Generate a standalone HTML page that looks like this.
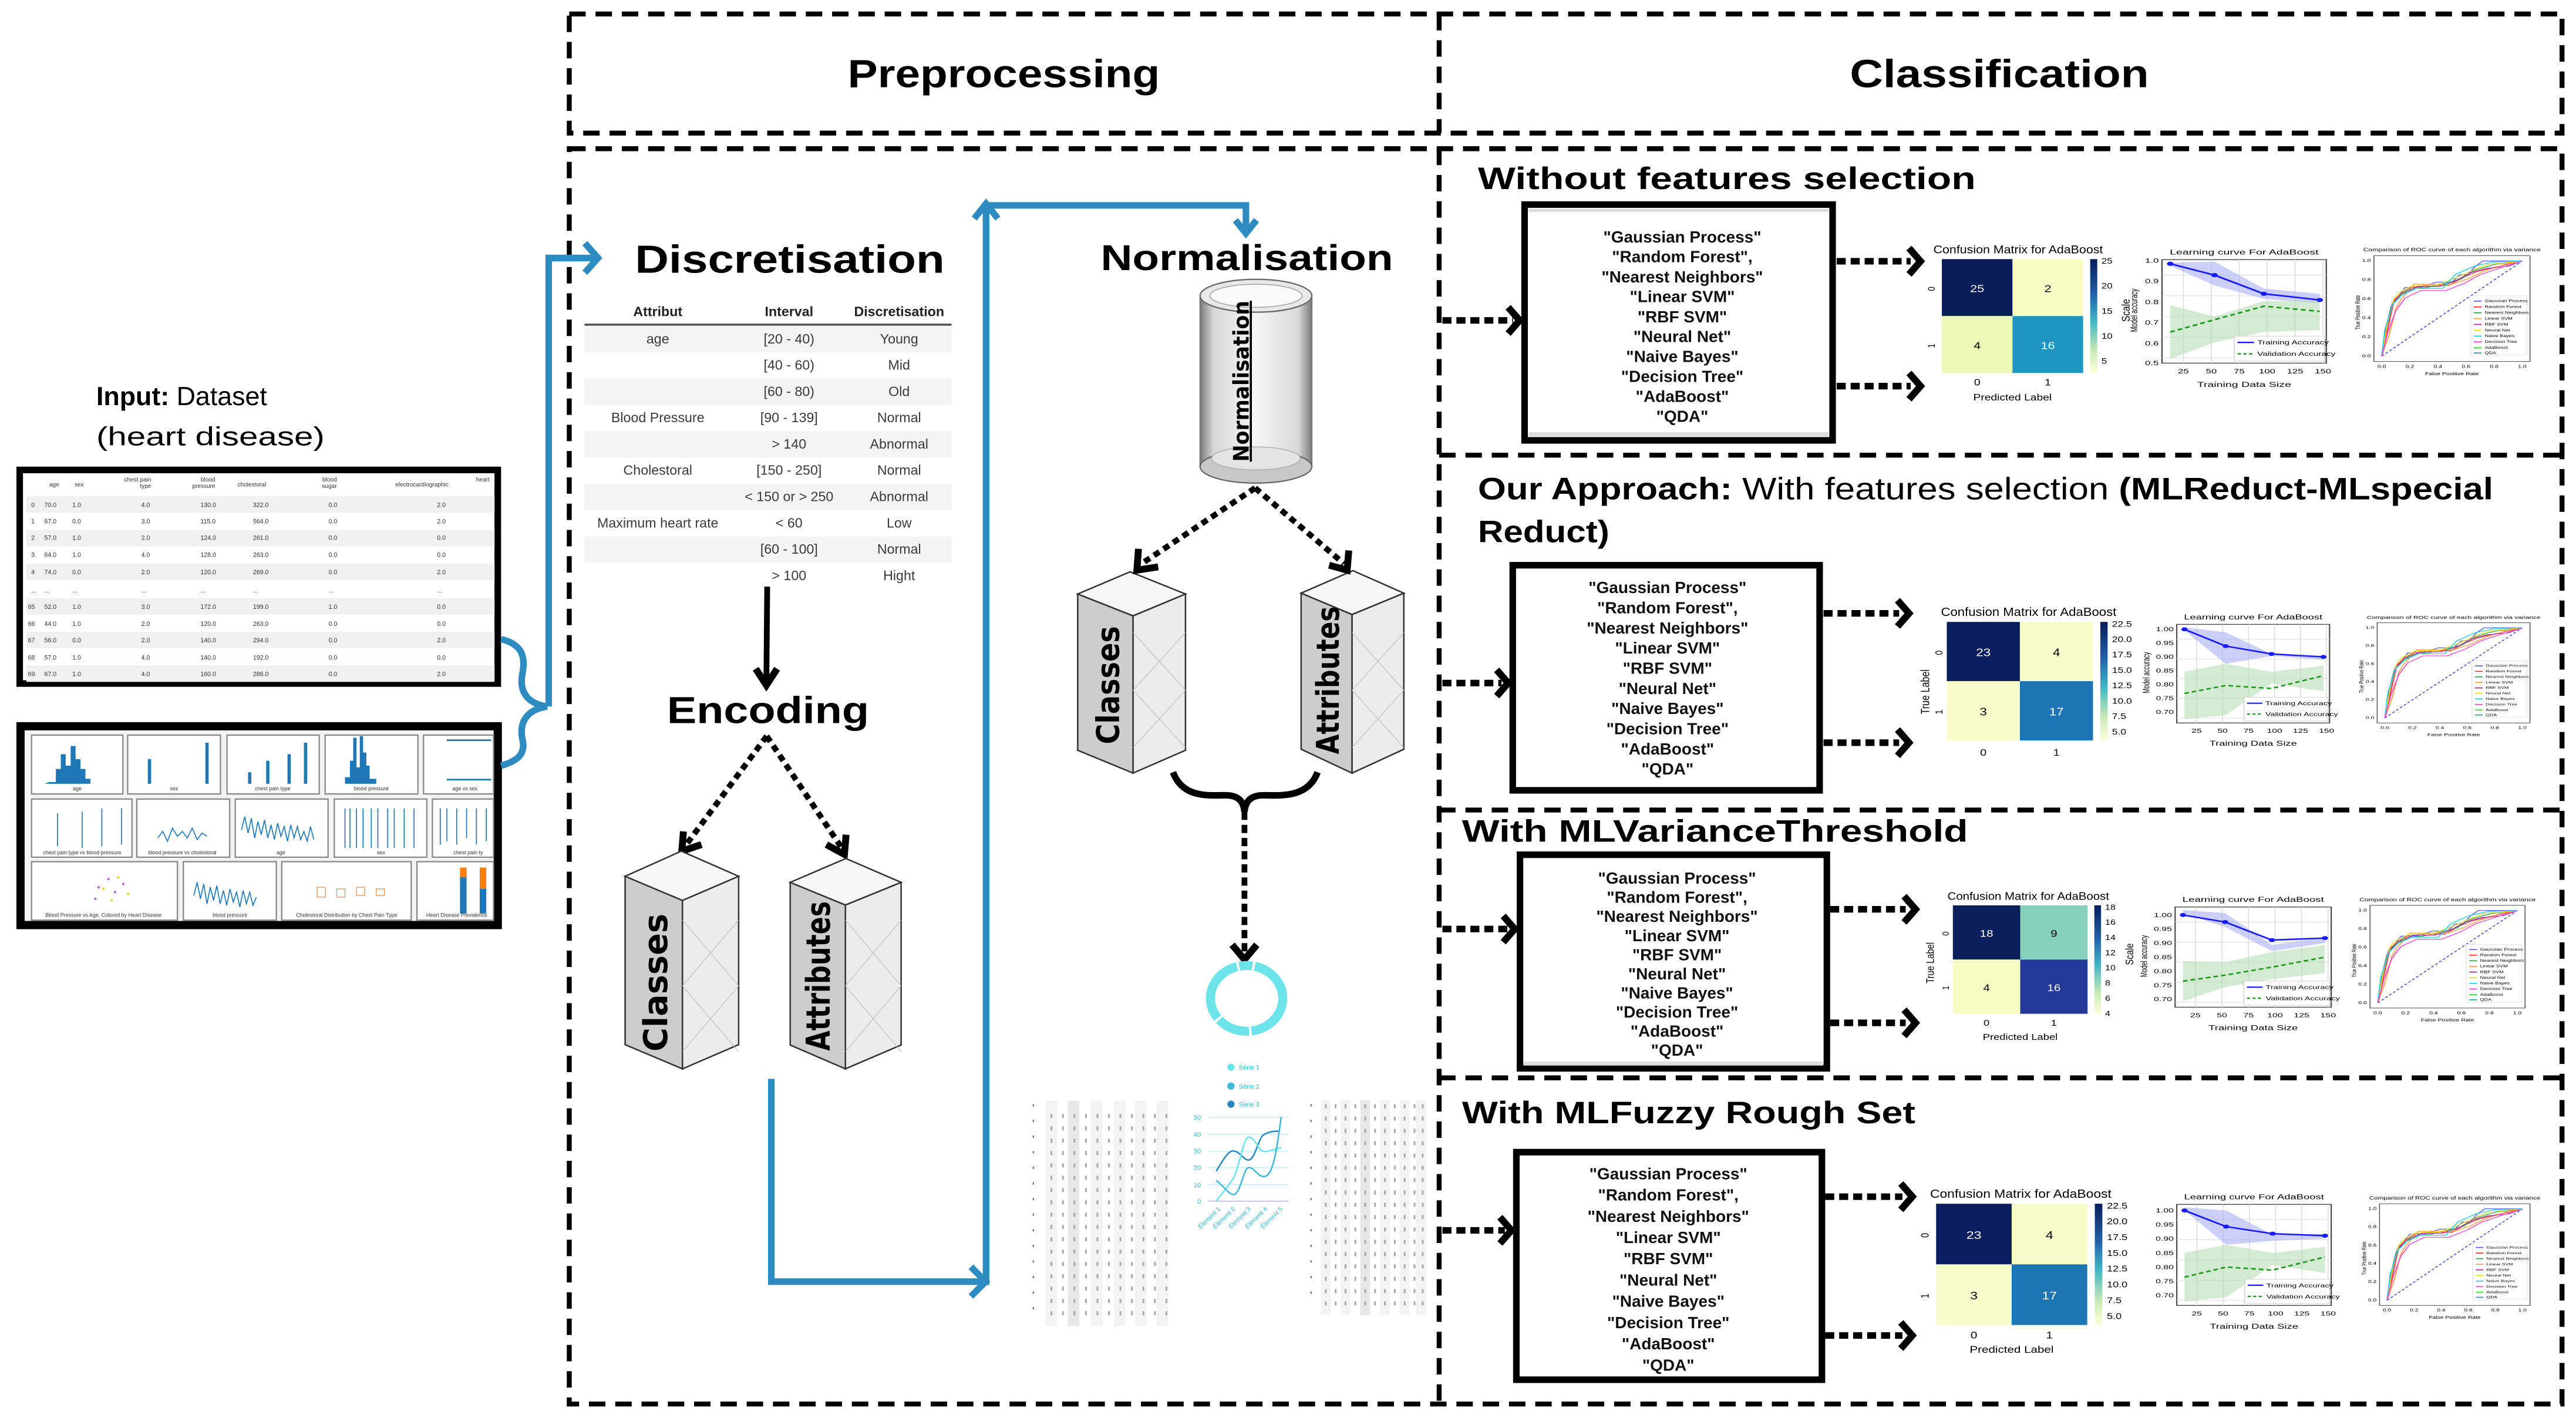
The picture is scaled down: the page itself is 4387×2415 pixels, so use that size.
<!DOCTYPE html>
<html><head><meta charset="utf-8"><style>
html,body{margin:0;padding:0;background:#fff;}
svg{display:block;}
text{font-family:"Liberation Sans","DejaVu Sans",sans-serif;}
.b{font-weight:bold;}
.lst{font-size:10px;font-weight:bold;text-anchor:middle;fill:#111;}
.tb{font-size:8.3px;fill:#3a3a3a;text-anchor:middle;}
.hd{fill:none;stroke:#000;stroke-width:4.2;stroke-linecap:butt;stroke-linejoin:miter;}
.bl{fill:none;stroke:#2e8bc0;stroke-width:4;}
.dash{fill:none;stroke:#000;stroke-width:3;stroke-dasharray:10 6;}
.sm{font-size:3.6px;fill:#333;}
</style></head><body>
<svg width="4387" height="2415" viewBox="0 0 1568 863" preserveAspectRatio="none" xmlns="http://www.w3.org/2000/svg">
<defs>
<linearGradient id="cb" x1="0" y1="0" x2="0" y2="1"><stop offset="0" stop-color="#081d58"/><stop offset="0.3" stop-color="#225ea8"/><stop offset="0.55" stop-color="#41b6c4"/><stop offset="0.8" stop-color="#c7e9b4"/><stop offset="1" stop-color="#ffffd9"/></linearGradient>
<linearGradient id="cyl" x1="0" y1="0" x2="1" y2="0"><stop offset="0" stop-color="#7a7a7a"/><stop offset="0.12" stop-color="#d8d8d8"/><stop offset="0.5" stop-color="#f6f6f6"/><stop offset="0.88" stop-color="#d8d8d8"/><stop offset="1" stop-color="#7a7a7a"/></linearGradient>
</defs>

<rect class="dash" x="346.5" y="8.5" width="1213" height="72.5"/>
<line class="dash" x1="876" y1="8.5" x2="876" y2="81"/>
<rect class="dash" x="346.5" y="90.5" width="1213" height="764"/>
<line class="dash" x1="876" y1="90.5" x2="876" y2="854.5"/>
<line class="dash" x1="876" y1="277" x2="1559.5" y2="277"/>
<line class="dash" x1="876" y1="493" x2="1559.5" y2="493"/>
<line class="dash" x1="876" y1="656" x2="1559.5" y2="656"/>

<text class="b" x="611" y="53" font-size="24" text-anchor="middle" textLength="190" lengthAdjust="spacingAndGlyphs">Preprocessing</text>
<text class="b" x="1217" y="53" font-size="24" text-anchor="middle" textLength="182" lengthAdjust="spacingAndGlyphs">Classification</text>

<text x="58.6" y="246.5" font-size="16"><tspan class="b">Input:</tspan> Dataset</text>
<text x="58.6" y="271" font-size="16" textLength="139" lengthAdjust="spacingAndGlyphs">(heart disease)</text>

<rect x="12" y="286" width="291" height="130" fill="#fff" stroke="#000" stroke-width="4"/>
<g class="sm">
<text x="36" y="296" text-anchor="end">age</text><text x="51" y="296" text-anchor="end">sex</text>
<text x="92" y="293" text-anchor="end">chest pain</text><text x="92" y="297" text-anchor="end">type</text>
<text x="131" y="293" text-anchor="end">blood</text><text x="131" y="297" text-anchor="end">pressure</text>
<text x="162" y="296" text-anchor="end">cholestoral</text>
<text x="205" y="293" text-anchor="end">blood</text><text x="205" y="297" text-anchor="end">sugar</text>
<text x="273" y="296" text-anchor="end">electrocardiographic</text>
<text x="298" y="293" text-anchor="end">heart</text>
</g>
<g fill="#f0f0f0"><rect x="16" y="302" width="285" height="10"/><rect x="16" y="322.5" width="285" height="10"/><rect x="16" y="343" width="285" height="10"/><rect x="16" y="364" width="285" height="10"/><rect x="16" y="384.5" width="285" height="10"/><rect x="16" y="405" width="285" height="10"/></g>
<g font-size="3.8" fill="#333">
<text x="19" y="308.5">0</text><text x="27" y="308.5">70.0</text><text x="44" y="308.5">1.0</text><text x="86" y="308.5">4.0</text><text x="122" y="308.5">130.0</text><text x="154" y="308.5">322.0</text><text x="200" y="308.5">0.0</text><text x="266" y="308.5">2.0</text>
<text x="19" y="318.5">1</text><text x="27" y="318.5">67.0</text><text x="44" y="318.5">0.0</text><text x="86" y="318.5">3.0</text><text x="122" y="318.5">115.0</text><text x="154" y="318.5">564.0</text><text x="200" y="318.5">0.0</text><text x="266" y="318.5">2.0</text>
<text x="19" y="328.5">2</text><text x="27" y="328.5">57.0</text><text x="44" y="328.5">1.0</text><text x="86" y="328.5">2.0</text><text x="122" y="328.5">124.0</text><text x="154" y="328.5">261.0</text><text x="200" y="328.5">0.0</text><text x="266" y="328.5">0.0</text>
<text x="19" y="339">3</text><text x="27" y="339">64.0</text><text x="44" y="339">1.0</text><text x="86" y="339">4.0</text><text x="122" y="339">128.0</text><text x="154" y="339">263.0</text><text x="200" y="339">0.0</text><text x="266" y="339">0.0</text>
<text x="19" y="349.5">4</text><text x="27" y="349.5">74.0</text><text x="44" y="349.5">0.0</text><text x="86" y="349.5">2.0</text><text x="122" y="349.5">120.0</text><text x="154" y="349.5">269.0</text><text x="200" y="349.5">0.0</text><text x="266" y="349.5">2.0</text>
<text x="19" y="360.5">...</text><text x="27" y="360.5">...</text><text x="44" y="360.5">...</text><text x="86" y="360.5">...</text><text x="122" y="360.5">...</text><text x="154" y="360.5">...</text><text x="200" y="360.5">...</text><text x="266" y="360.5">...</text>
<text x="17" y="370.5">65</text><text x="27" y="370.5">52.0</text><text x="44" y="370.5">1.0</text><text x="86" y="370.5">3.0</text><text x="122" y="370.5">172.0</text><text x="154" y="370.5">199.0</text><text x="200" y="370.5">1.0</text><text x="266" y="370.5">0.0</text>
<text x="17" y="381">66</text><text x="27" y="381">44.0</text><text x="44" y="381">1.0</text><text x="86" y="381">2.0</text><text x="122" y="381">120.0</text><text x="154" y="381">263.0</text><text x="200" y="381">0.0</text><text x="266" y="381">0.0</text>
<text x="17" y="391">67</text><text x="27" y="391">56.0</text><text x="44" y="391">0.0</text><text x="86" y="391">2.0</text><text x="122" y="391">140.0</text><text x="154" y="391">294.0</text><text x="200" y="391">0.0</text><text x="266" y="391">2.0</text>
<text x="17" y="401.5">68</text><text x="27" y="401.5">57.0</text><text x="44" y="401.5">1.0</text><text x="86" y="401.5">4.0</text><text x="122" y="401.5">140.0</text><text x="154" y="401.5">192.0</text><text x="200" y="401.5">0.0</text><text x="266" y="401.5">0.0</text>
<text x="17" y="411.5">69</text><text x="27" y="411.5">67.0</text><text x="44" y="411.5">1.0</text><text x="86" y="411.5">4.0</text><text x="122" y="411.5">160.0</text><text x="154" y="411.5">286.0</text><text x="200" y="411.5">0.0</text><text x="266" y="411.5">2.0</text>
</g>

<rect x="12.5" y="442" width="290.5" height="121" fill="#f3f3f3" stroke="#000" stroke-width="5"/>
<g fill="#fff" stroke="#888" stroke-width="0.8">
<rect x="19.2" y="447.4" width="55.6" height="35.8"/><rect x="77.7" y="447.4" width="56.5" height="35.8"/><rect x="138.2" y="447.4" width="56.1" height="35.8"/><rect x="197.9" y="447.4" width="56.5" height="35.8"/><rect x="257.8" y="447.4" width="42.6" height="35.8"/>
<rect x="19.2" y="486.3" width="61.1" height="35.4"/><rect x="83.3" y="486.3" width="56.5" height="35.4"/><rect x="143.2" y="486.3" width="56.5" height="35.4"/><rect x="203.5" y="486.3" width="56.3" height="35.4"/><rect x="263.2" y="486.3" width="37.2" height="35.4"/>
<rect x="19.2" y="524.4" width="88.8" height="35.6"/><rect x="111.6" y="524.4" width="56.6" height="35.6"/><rect x="171.5" y="524.4" width="78.8" height="35.6"/><rect x="253.8" y="524.4" width="46.6" height="35.6"/>
</g>
<g fill="#1f77b4">
<path d="M30 476 h4 v-8 h3 v-9 h3 v7 h3 v-12 h3 v8 h3 v6 h3 v6 h3 v3 h-28z"/>
<rect x="90" y="462" width="2" height="15"/><rect x="125" y="452" width="2" height="25"/>
<rect x="151" y="470" width="2" height="7"/><rect x="162" y="463" width="2" height="14"/><rect x="175" y="459" width="2" height="18"/><rect x="185" y="452" width="2" height="25"/>
<path d="M210 477 v-4 h3 v-10 h2 v-14 h2 v18 h2 v-19 h2 v10 h2 v8 h2 v8 h4 v3z"/>
<rect x="272" y="450" width="27" height="1"/><rect x="272" y="474" width="27" height="1"/>
<rect x="280" y="530" width="4" height="26"/><rect x="292" y="540" width="4" height="16"/>
</g>
<g fill="#ff7f0e"><rect x="280" y="528" width="4" height="6"/><rect x="292" y="528" width="4" height="13"/></g>
<g stroke="#1f77b4" stroke-width="0.6" fill="none">
<path d="M35 495 v20 M50 494 v22 M62 492 v23 M74 492 v22"/>
<path d="M96 510 l3 -4 3 6 3 -8 3 5 3 -3 3 4 3 -6 3 7 3-4 3 2"/>
<path d="M147 505 l2 -8 2 10 2 -9 2 12 2 -10 2 8 2 -9 2 11 2 -8 2 9 2 -10 2 8 2 -6 2 9 2 -10 2 8 2 -7 2 8 2 -5 2 6 2 -9 2 8"/>
<path d="M210 492 v24 M213 492 v24 M217 492 v24 M221 492 v24 M226 492 v24 M230 492 v24 M236 492 v24 M240 492 v24 M246 492 v24 M252 492 v24"/>
<path d="M268 492 v22 M272 492 v20 M278 492 v22 M284 492 v18 M290 492 v22 M296 492 v20"/>
<path d="M118 545 l2 -8 2 10 2 -9 2 12 2 -10 2 8 2 -9 2 11 2 -8 2 9 2 -10 2 8 2 -6 2 9 2 -10 2 8 2 -7 2 8 2 -5"/>
</g>
<g fill="#9b59b6" opacity="0.8"><circle cx="60" cy="540" r="0.8"/><circle cx="66" cy="535" r="0.8"/><circle cx="70" cy="543" r="0.8"/><circle cx="58" cy="547" r="0.8"/><circle cx="75" cy="538" r="0.8"/></g>
<g fill="#e8d83a"><circle cx="63" cy="541" r="0.8"/><circle cx="72" cy="534" r="0.8"/><circle cx="68" cy="548" r="0.8"/><circle cx="78" cy="544" r="0.8"/></g>
<g fill="#fff" stroke="#e89a5e" stroke-width="0.5"><rect x="193" y="540" width="5" height="6"/><rect x="205" y="541" width="5" height="5"/><rect x="217" y="540" width="5" height="5"/><rect x="229" y="541" width="5" height="4"/></g>
<g font-size="3.2" fill="#333" text-anchor="middle">
<text x="47" y="481">age</text><text x="106" y="481">sex</text><text x="166" y="481">chest pain type</text><text x="226" y="481">blood pressure</text><text x="283" y="481">age vs sex</text>
<text x="50" y="520">chest pain type vs blood pressure</text><text x="111" y="520">blood pressure vs cholestoral</text><text x="171" y="520">age</text><text x="232" y="520">sex</text><text x="285" y="520">chest pain ty</text>
<text x="63" y="558">Blood Pressure vs Age, Colored by Heart Disease</text><text x="140" y="558">blood pressure</text><text x="211" y="558">Cholestoral Distribution by Chest Pain Type</text><text x="278" y="558">Heart Disease Prevalence</text>
</g>

<path class="bl" d="M305 389 C318 392 320 400 318 410 C316 420 320 428 333 430 C320 432 316 440 318 450 C320 458 316 463 305 466"/>
<path class="bl" d="M334 430 V157 H362"/>
<path class="bl" d="M356 148 L364 157 L356 166" stroke-width="4.5"/>

<text class="b" x="386.5" y="166" font-size="24" textLength="188.5" lengthAdjust="spacingAndGlyphs">Discretisation</text>
<g class="b" font-size="8.3" text-anchor="middle" fill="#222"><text x="400.4" y="192.5">Attribut</text><text x="480.3" y="192.5">Interval</text><text x="547.3" y="192.5">Discretisation</text></g>
<line x1="355.8" y1="197.6" x2="579.2" y2="197.6" stroke="#555" stroke-width="1.3"/>
<g fill="#f4f4f4"><rect x="355.8" y="198.5" width="223.4" height="16"/><rect x="355.8" y="230.5" width="223.4" height="16"/><rect x="355.8" y="262.5" width="223.4" height="16"/><rect x="355.8" y="294.5" width="223.4" height="16"/><rect x="355.8" y="326.5" width="223.4" height="16"/></g>
<g class="tb">
<text x="400.4" y="209">age</text><text x="480.3" y="209">[20 - 40)</text><text x="547.3" y="209">Young</text>
<text x="480.3" y="225">[40 - 60)</text><text x="547.3" y="225">Mid</text>
<text x="480.3" y="241">[60 - 80)</text><text x="547.3" y="241">Old</text>
<text x="400.4" y="257">Blood Pressure</text><text x="480.3" y="257">[90 - 139]</text><text x="547.3" y="257">Normal</text>
<text x="480.3" y="273">&gt; 140</text><text x="547.3" y="273">Abnormal</text>
<text x="400.4" y="289">Cholestoral</text><text x="480.3" y="289">[150 - 250]</text><text x="547.3" y="289">Normal</text>
<text x="480.3" y="305">&lt; 150 or &gt; 250</text><text x="547.3" y="305">Abnormal</text>
<text x="400.4" y="321">Maximum heart rate</text><text x="480.3" y="321">&lt; 60</text><text x="547.3" y="321">Low</text>
<text x="480.3" y="337">[60 - 100]</text><text x="547.3" y="337">Normal</text>
<text x="480.3" y="353">&gt; 100</text><text x="547.3" y="353">Hight</text>
</g>
<line x1="467" y1="357" x2="466.5" y2="414" stroke="#000" stroke-width="3.5"/>
<path d="M460 407 L466.5 417 L473 407" class="hd" stroke-width="3.5"/>

<text class="b" x="406" y="440" font-size="23" textLength="123" lengthAdjust="spacingAndGlyphs">Encoding</text>
<path d="M466.7 448 L417 515" fill="none" stroke="#000" stroke-width="3.5" stroke-dasharray="4 3"/>
<path d="M466.7 448 L513 517" fill="none" stroke="#000" stroke-width="3.5" stroke-dasharray="4 3"/>
<path d="M416 506 L415 518 L427 514" class="hd" stroke-width="3.5"/>
<path d="M503 514 L514 520 L515 508" class="hd" stroke-width="3.5"/>

<g stroke="#333" stroke-width="0.9">
<polygon points="380.5,533.3 415.4,548 415.4,650.5 380.5,635.8" fill="#cdcdcd"/>
<polygon points="415.4,548 449.6,533.3 449.6,635.8 415.4,650.5" fill="#ececec"/>
<polygon points="380.5,533.3 414.7,518 449.6,533.3 415.4,548" fill="#f7f7f7"/>
<polygon points="481,537 514.6,550.8 514.6,650.5 481,636" fill="#cdcdcd"/>
<polygon points="514.6,550.8 548.5,537 548.5,636 514.6,650.5" fill="#ececec"/>
<polygon points="481,537 514.9,522.5 548.5,537 514.6,550.8" fill="#f7f7f7"/>
<polygon points="656,361.5 689.7,374.8 689.7,470.5 656,456.6" fill="#cdcdcd"/>
<polygon points="689.7,374.8 721.6,361.5 721.6,456.6 689.7,470.5" fill="#ececec"/>
<polygon points="656,361.5 687.9,348 721.6,361.5 689.7,374.8" fill="#f7f7f7"/>
<polygon points="792,361 823,374 823,470.5 792,456" fill="#cdcdcd"/>
<polygon points="823,374 854.5,361 854.5,456 823,470.5" fill="#ececec"/>
<polygon points="792,361 823.5,347.3 854.5,361 823,374" fill="#f7f7f7"/>
</g>
<g stroke="#bbb" stroke-width="0.4" fill="none">
<path d="M415.4 560 L449.6 600 M449.6 560 L415.4 600 M415.4 600 L449.6 640 M449.6 600 L415.4 640"/>
<path d="M514.6 560 L548.5 600 M548.5 560 L514.6 600 M514.6 600 L548.5 640 M548.5 600 L514.6 640"/>
<path d="M689.7 385 L721.6 420 M721.6 385 L689.7 420 M689.7 420 L721.6 455 M721.6 420 L689.7 455"/>
<path d="M823 385 L854.5 420 M854.5 385 L823 420 M823 420 L854.5 455 M854.5 420 L823 455"/>
</g>
<g class="b" fill="#000">
<text transform="translate(406,640) rotate(-90)" font-size="20" textLength="84" lengthAdjust="spacingAndGlyphs" style="font-family:'DejaVu Sans',sans-serif">Classes</text>
<text transform="translate(505,639.5) rotate(-90)" font-size="20" textLength="91" lengthAdjust="spacingAndGlyphs" style="font-family:'DejaVu Sans',sans-serif">Attributes</text>
<text transform="translate(681,453) rotate(-90)" font-size="19" textLength="72" lengthAdjust="spacingAndGlyphs" style="font-family:'DejaVu Sans',sans-serif">Classes</text>
<text transform="translate(815,459) rotate(-90)" font-size="19" textLength="90" lengthAdjust="spacingAndGlyphs" style="font-family:'DejaVu Sans',sans-serif">Attributes</text>
</g>

<path class="bl" d="M469.5 656.6 V780 H598"/>
<path class="bl" d="M591 771 L600 780 L591 789" stroke-width="4.5"/>
<path class="bl" d="M600.2 782 V125 H758.4 V140"/>
<path class="bl" d="M593 133 L600.2 124 L607.4 133" stroke-width="4"/>
<path class="bl" d="M752 134 L758.4 142 L764.8 134" stroke-width="4"/>

<text class="b" x="670" y="164.4" font-size="22" textLength="178" lengthAdjust="spacingAndGlyphs">Normalisation</text>
<rect x="730.5" y="180" width="68" height="104" fill="url(#cyl)" stroke="#777" stroke-width="0.8"/>
<ellipse cx="764.5" cy="284" rx="34" ry="10" fill="#c8c8c8" stroke="#666" stroke-width="0.8"/>
<ellipse cx="764.5" cy="279" rx="27" ry="7" fill="#e4e4e4" stroke="#aaa" stroke-width="0.5"/>
<ellipse cx="764.5" cy="180" rx="34" ry="10" fill="#e8e8e8" stroke="#666" stroke-width="0.8"/>
<ellipse cx="764.5" cy="180" rx="28" ry="7" fill="#fafafa" stroke="#aaa" stroke-width="0.6"/>
<text class="b" transform="translate(760,281) rotate(-90)" font-size="13" textLength="98" lengthAdjust="spacingAndGlyphs" text-decoration="underline" style="font-family:'DejaVu Sans',sans-serif">Normalisation</text>
<path d="M764 297 L695 343" fill="none" stroke="#000" stroke-width="3.5" stroke-dasharray="4 3"/>
<path d="M764 297 L818 343" fill="none" stroke="#000" stroke-width="3.5" stroke-dasharray="4 3"/>
<path d="M693 334 L692 347 L705 345" class="hd" stroke-width="3.5"/>
<path d="M809 344 L820 347 L821 335" class="hd" stroke-width="3.5"/>

<path d="M714 470 C720 486 736 484 746 484 C754 484 757 488 757.5 494 C758 488 761 484 769 484 C779 484 796 486 802 470" fill="none" stroke="#000" stroke-width="4"/>
<line x1="757.5" y1="494" x2="757.5" y2="580" stroke="#000" stroke-width="3.5" stroke-dasharray="5 3"/>
<path d="M750 575 L757.5 584 L765 575" class="hd" stroke-width="3.5"/>
<ellipse cx="758.8" cy="607.6" rx="22" ry="20" fill="none" stroke="#6de3ea" stroke-width="5.5" stroke-dasharray="30 1.5 20 1.5 40 1.5 8 1.5 40 1.5"/>

<g font-size="4" fill="#3fb8d8">
<circle cx="749.3" cy="649.5" r="2.2" fill="#6de3ea"/><text x="754" y="651">Série 1</text>
<circle cx="749.3" cy="661" r="2.2" fill="#3fb8d8"/><text x="754" y="662.5">Série 2</text>
<circle cx="749.3" cy="672" r="2.2" fill="#2a8abf"/><text x="754" y="673.5">Série 3</text>
<g stroke="#bfeef3" stroke-width="0.5"><line x1="735.5" y1="680" x2="784.4" y2="680"/><line x1="735.5" y1="690.3" x2="784.4" y2="690.3"/><line x1="735.5" y1="700.6" x2="784.4" y2="700.6"/><line x1="735.5" y1="710.7" x2="784.4" y2="710.7"/><line x1="735.5" y1="721" x2="784.4" y2="721"/><line x1="735.5" y1="731" x2="784.4" y2="731" stroke="#7fd3e2"/></g>
<g text-anchor="end"><text x="731" y="681.5">50</text><text x="731" y="691.8">40</text><text x="731" y="702">30</text><text x="731" y="712">20</text><text x="731" y="722.5">10</text><text x="731" y="732.5">0</text></g>
<path d="M740.3 712.8 C745 705 748 700 750.9 700.5 C755 701 757 706 760 706 C764 706 766 692 769.5 690.4 C773 688.5 776 688.5 779.1 688.4" fill="none" stroke="#2a8abf" stroke-width="0.9"/>
<path d="M740.3 731 C745 725 748 721 750.9 717 C755 708 757 692 760 692 C764 692 766 700.6 769.5 700.8 C773 701 776 699 779.9 698.4" fill="none" stroke="#6de3ea" stroke-width="0.9"/>
<path d="M740.3 718.4 C745 722 748 727 750.9 727 C755 727 757 710.6 760 710.6 C764 710.6 765 716 769.5 716 C775 716 777 700 779.9 679.7" fill="none" stroke="#3fb8d8" stroke-width="0.9"/>
<g font-size="3.8"><text transform="translate(743,736) rotate(-45)" text-anchor="end">Élément 1</text><text transform="translate(752,736) rotate(-45)" text-anchor="end">Élément 2</text><text transform="translate(761.5,736) rotate(-45)" text-anchor="end">Élément 3</text><text transform="translate(771.5,736) rotate(-45)" text-anchor="end">Élément 4</text><text transform="translate(781,736) rotate(-45)" text-anchor="end">Élément 5</text></g>
</g>
<g fill="#f3f3f3"><rect x="636.6" y="670" width="7" height="137"/><rect x="650" y="670" width="7" height="137" fill="#e8e8e8"/><rect x="664" y="670" width="7" height="137"/><rect x="678" y="670" width="7" height="137"/><rect x="691" y="670" width="7" height="137"/><rect x="704" y="670" width="7" height="137"/>
<rect x="804" y="669.5" width="6" height="131"/><rect x="816" y="669.5" width="6" height="131"/><rect x="828" y="669.5" width="6" height="131" fill="#e8e8e8"/><rect x="840" y="669.5" width="6" height="131"/><rect x="852" y="669.5" width="6" height="131"/><rect x="862" y="669.5" width="6" height="131"/></g>
<g stroke="#aaa" stroke-width="1.1" stroke-dasharray="2.5 5">
<path d="M640 678 V805 M647 678 V805 M654 678 V805 M661 678 V805 M668 678 V805 M675 678 V805 M682 678 V805 M689 678 V805 M696 678 V805 M703 678 V805 M710 678 V805"/>
<path d="M807 672 V798 M813 672 V798 M819 672 V798 M825 672 V798 M831 672 V798 M837 672 V798 M843 672 V798 M849 672 V798 M855 672 V798 M861 672 V798 M866 672 V798"/>
</g>
<g stroke="#777" stroke-width="0.8" stroke-dasharray="1.5 8"><path d="M629 672 V800 M798 672 V795"/></g>

<text class="b" x="899.6" y="115" font-size="19" textLength="303" lengthAdjust="spacingAndGlyphs">Without features selection</text>
<text x="899.6" y="304" font-size="19" textLength="618" lengthAdjust="spacingAndGlyphs"><tspan class="b">Our Approach:</tspan> With features selection <tspan class="b">(MLReduct-MLspecial</tspan></text>
<text class="b" x="899.6" y="330" font-size="19" textLength="80" lengthAdjust="spacingAndGlyphs">Reduct)</text>
<text class="b" x="889.9" y="512.2" font-size="19" textLength="308" lengthAdjust="spacingAndGlyphs">With MLVarianceThreshold</text>
<text class="b" x="889.9" y="683.7" font-size="19" textLength="276" lengthAdjust="spacingAndGlyphs">With MLFuzzy Rough Set</text>

<rect x="928" y="124.5" width="187.5" height="143.5" fill="#fff" stroke="#000" stroke-width="4"/>
<rect x="930.5" y="127" width="182.5" height="2" fill="#ddd"/><rect x="930.5" y="263" width="182.5" height="2.5" fill="#ddd"/>
<rect x="920.8" y="344" width="186.8" height="137" fill="#fff" stroke="#000" stroke-width="4"/>
<rect x="925.2" y="520.2" width="186.8" height="130" fill="#fff" stroke="#000" stroke-width="4"/>
<rect x="927.5" y="646" width="182" height="2.5" fill="#ddd"/>
<rect x="923" y="701.2" width="186" height="138.5" fill="#fff" stroke="#000" stroke-width="4"/>

<g class="lst">
<text x="1024" y="147.5">"Gaussian Process"</text><text x="1024" y="159.6">"Random Forest",</text><text x="1024" y="171.8">"Nearest Neighbors"</text><text x="1024" y="183.9">"Linear SVM"</text><text x="1024" y="196.1">"RBF SVM"</text><text x="1024" y="208.2">"Neural Net"</text><text x="1024" y="220.3">"Naive Bayes"</text><text x="1024" y="232.5">"Decision Tree"</text><text x="1024" y="244.6">"AdaBoost"</text><text x="1024" y="256.8">"QDA"</text>
</g>
<g class="lst">
<text x="1015" y="361">"Gaussian Process"</text><text x="1015" y="373.3">"Random Forest",</text><text x="1015" y="385.5">"Nearest Neighbors"</text><text x="1015" y="397.8">"Linear SVM"</text><text x="1015" y="410.1">"RBF SVM"</text><text x="1015" y="422.4">"Neural Net"</text><text x="1015" y="434.6">"Naive Bayes"</text><text x="1015" y="446.9">"Decision Tree"</text><text x="1015" y="459.2">"AdaBoost"</text><text x="1015" y="471.4">"QDA"</text>
</g>
<g class="lst">
<text x="1020.8" y="537.9">"Gaussian Process"</text><text x="1020.8" y="549.5">"Random Forest",</text><text x="1020.8" y="561.1">"Nearest Neighbors"</text><text x="1020.8" y="572.8">"Linear SVM"</text><text x="1020.8" y="584.4">"RBF SVM"</text><text x="1020.8" y="596">"Neural Net"</text><text x="1020.8" y="607.6">"Naive Bayes"</text><text x="1020.8" y="619.3">"Decision Tree"</text><text x="1020.8" y="630.9">"AdaBoost"</text><text x="1020.8" y="642.5">"QDA"</text>
</g>
<g class="lst">
<text x="1015.5" y="717.7">"Gaussian Process"</text><text x="1015.5" y="730.6">"Random Forest",</text><text x="1015.5" y="743.6">"Nearest Neighbors"</text><text x="1015.5" y="756.5">"Linear SVM"</text><text x="1015.5" y="769.4">"RBF SVM"</text><text x="1015.5" y="782.4">"Neural Net"</text><text x="1015.5" y="795.3">"Naive Bayes"</text><text x="1015.5" y="808.3">"Decision Tree"</text><text x="1015.5" y="821.2">"AdaBoost"</text><text x="1015.5" y="834.2">"QDA"</text>
</g>

<g fill="none" stroke="#000" stroke-width="4" stroke-dasharray="5.5 3">
<path d="M878 195 H921"/><path d="M1118 159 H1163"/><path d="M1118 235 H1163"/>
<path d="M878 415.7 H914"/><path d="M1110 373.3 H1156"/><path d="M1110 452 H1156"/>
<path d="M878 565.4 H918"/><path d="M1114 553.4 H1160"/><path d="M1114 622.5 H1160"/>
<path d="M878 748.8 H916"/><path d="M1111 728.3 H1158"/><path d="M1111 812.8 H1158"/>
</g>
<g class="hd" stroke-width="4">
<path d="M918 187 L925 195 L918 203"/><path d="M1162 151 L1169 159 L1162 167"/><path d="M1162 227 L1169 235 L1162 243"/>
<path d="M911 407.7 L918 415.7 L911 423.7"/><path d="M1155 365.3 L1162 373.3 L1155 381.3"/><path d="M1155 444 L1162 452 L1155 460"/>
<path d="M915 557.4 L922 565.4 L915 573.4"/><path d="M1159 545.4 L1166 553.4 L1159 561.4"/><path d="M1159 614.5 L1166 622.5 L1159 630.5"/>
<path d="M913 740.8 L920 748.8 L913 756.8"/><path d="M1157 720.3 L1164 728.3 L1157 736.3"/><path d="M1157 804.8 L1164 812.8 L1157 820.8"/>
</g>

<g transform="translate(1182,157.7) scale(0.86,0.693)">
<text x="54" y="-5" font-size="10" text-anchor="middle" textLength="120" lengthAdjust="spacingAndGlyphs">Confusion Matrix for AdaBoost</text>
<rect x="0" y="0" width="50" height="50" fill="#081d58"/><rect x="50" y="0" width="50" height="50" fill="#f7fcc4"/><rect x="0" y="50" width="50" height="50" fill="#eef8b6"/><rect x="50" y="50" width="50" height="50" fill="#1f96c1"/>
<g font-size="9" text-anchor="middle"><text x="25" y="29" fill="#fff">25</text><text x="75" y="29">2</text><text x="25" y="79">4</text><text x="75" y="79" fill="#fff">16</text></g>
<rect x="105" y="0" width="5" height="100" fill="url(#cb)"/>
<g font-size="7"><text x="113" y="4">25</text><text x="113" y="26">20</text><text x="113" y="48">15</text><text x="113" y="70">10</text><text x="113" y="92">5</text></g>
<text transform="translate(133,55) rotate(-90)" font-size="8">Scale</text>
<g font-size="8" text-anchor="middle"><text x="25" y="111">0</text><text x="75" y="111">1</text><text x="50" y="124">Predicted Label</text></g>
<g font-size="7"><text transform="translate(-5,28) rotate(-90)">0</text><text transform="translate(-5,78) rotate(-90)">1</text></g>
</g>
<g transform="translate(1185,378.5) scale(0.89,0.721)">
<text x="56" y="-5" font-size="10" text-anchor="middle" textLength="120" lengthAdjust="spacingAndGlyphs">Confusion Matrix for AdaBoost</text>
<rect x="0" y="0" width="50" height="50" fill="#0b1f5e"/><rect x="50" y="0" width="50" height="50" fill="#f7fcc8"/><rect x="0" y="50" width="50" height="50" fill="#f8fcca"/><rect x="50" y="50" width="50" height="50" fill="#1f74b3"/>
<g font-size="9" text-anchor="middle"><text x="25" y="29" fill="#fff">23</text><text x="75" y="29">4</text><text x="25" y="79">3</text><text x="75" y="79" fill="#fff">17</text></g>
<rect x="105" y="0" width="5" height="100" fill="url(#cb)"/>
<g font-size="7"><text x="113" y="4">22.5</text><text x="113" y="17">20.0</text><text x="113" y="30">17.5</text><text x="113" y="43">15.0</text><text x="113" y="56">12.5</text><text x="113" y="69">10.0</text><text x="113" y="82">7.5</text><text x="113" y="95">5.0</text></g>
<text transform="translate(-12,78) rotate(-90)" font-size="8">True Label</text>
<g font-size="8" text-anchor="middle"><text x="25" y="113">0</text><text x="75" y="113">1</text></g>
<g font-size="7"><text transform="translate(-3,28) rotate(-90)">0</text><text transform="translate(-3,78) rotate(-90)">1</text></g>
</g>
<g transform="translate(1188.7,551) scale(0.82,0.66)">
<text x="56" y="-5" font-size="10" text-anchor="middle" textLength="120" lengthAdjust="spacingAndGlyphs">Confusion Matrix for AdaBoost</text>
<rect x="0" y="0" width="50" height="50" fill="#0b1f5c"/><rect x="50" y="0" width="50" height="50" fill="#88d1bd"/><rect x="0" y="50" width="50" height="50" fill="#f7fcc4"/><rect x="50" y="50" width="50" height="50" fill="#24399a"/>
<g font-size="9" text-anchor="middle"><text x="25" y="29" fill="#fff">18</text><text x="75" y="29">9</text><text x="25" y="79">4</text><text x="75" y="79" fill="#fff">16</text></g>
<rect x="105" y="0" width="5" height="100" fill="url(#cb)"/>
<g font-size="7"><text x="113" y="4">18</text><text x="113" y="18">16</text><text x="113" y="32">14</text><text x="113" y="46">12</text><text x="113" y="60">10</text><text x="113" y="74">8</text><text x="113" y="88">6</text><text x="113" y="102">4</text></g>
<text transform="translate(134,55) rotate(-90)" font-size="8">Scale</text>
<text transform="translate(-14,72) rotate(-90)" font-size="8">True Label</text>
<g font-size="8" text-anchor="middle"><text x="25" y="111">0</text><text x="75" y="111">1</text><text x="50" y="124">Predicted Label</text></g>
<g font-size="7"><text transform="translate(-3,28) rotate(-90)">0</text><text transform="translate(-3,78) rotate(-90)">1</text></g>
</g>
<g transform="translate(1178.5,732.6) scale(0.92,0.738)">
<text x="56" y="-5" font-size="10" text-anchor="middle" textLength="120" lengthAdjust="spacingAndGlyphs">Confusion Matrix for AdaBoost</text>
<rect x="0" y="0" width="50" height="50" fill="#0b1f5e"/><rect x="50" y="0" width="50" height="50" fill="#f7fcc8"/><rect x="0" y="50" width="50" height="50" fill="#f8fcca"/><rect x="50" y="50" width="50" height="50" fill="#1f74b3"/>
<g font-size="9" text-anchor="middle"><text x="25" y="29" fill="#fff">23</text><text x="75" y="29">4</text><text x="25" y="79">3</text><text x="75" y="79" fill="#fff">17</text></g>
<rect x="105" y="0" width="5" height="100" fill="url(#cb)"/>
<g font-size="7"><text x="113" y="4">22.5</text><text x="113" y="17">20.0</text><text x="113" y="30">17.5</text><text x="113" y="43">15.0</text><text x="113" y="56">12.5</text><text x="113" y="69">10.0</text><text x="113" y="82">7.5</text><text x="113" y="95">5.0</text></g>
<g font-size="8" text-anchor="middle"><text x="25" y="111">0</text><text x="75" y="111">1</text><text x="50" y="123">Predicted Label</text></g>
<g font-size="7"><text transform="translate(-5,28) rotate(-90)">0</text><text transform="translate(-5,78) rotate(-90)">1</text></g>
</g>

<g transform="translate(1316,158) scale(1.0,0.63)">
<text x="50" y="-5" font-size="7" text-anchor="middle">Learning curve For AdaBoost</text>
<rect x="0" y="0" width="100" height="100" fill="#fff" stroke="#444" stroke-width="0.8"/>
<g stroke="#ddd" stroke-width="0.6"><path d="M13 0V100 M30 0V100 M47 0V100 M64 0V100 M81 0V100 M98 0V100 M0 15H100 M0 35H100 M0 55H100 M0 75H100 M0 95H100"/></g>
<polygon points="5,3 32,2 62,28 96,33 96,42 62,38 32,25 5,6" fill="#aab0f5" opacity="0.6"/>
<polygon points="5,44 32,55 62,40 96,40 96,68 62,70 32,80 5,96" fill="#b8dcb4" opacity="0.6"/>
<polyline points="5,4 32,15 62,33 96,39" fill="none" stroke="#1a1aff" stroke-width="1.5"/>
<g fill="#1a1aff"><circle cx="5" cy="4" r="2"/><circle cx="32" cy="15" r="2"/><circle cx="62" cy="33" r="2"/><circle cx="96" cy="39" r="2"/></g>
<polyline points="5,70 32,58 62,45 96,50" fill="none" stroke="#1a9a1a" stroke-width="1.5" stroke-dasharray="3 2"/>
<rect x="44" y="74" width="55" height="24" fill="#fff" stroke="#ccc" stroke-width="0.5"/>
<g font-size="5.5"><line x1="46" y1="80" x2="56" y2="80" stroke="#1a1aff" stroke-width="1.3"/><text x="58" y="82">Training Accuracy</text><line x1="46" y1="91" x2="56" y2="91" stroke="#1a9a1a" stroke-width="1.3" stroke-dasharray="2 1.5"/><text x="58" y="93">Validation Accuracy</text></g>
<g font-size="6" text-anchor="end"><text x="-2" y="3">1.0</text><text x="-2" y="23">0.9</text><text x="-2" y="43">0.8</text><text x="-2" y="63">0.7</text><text x="-2" y="83">0.6</text><text x="-2" y="102">0.5</text></g>
<g font-size="6" text-anchor="middle"><text x="13" y="110">25</text><text x="30" y="110">50</text><text x="47" y="110">75</text><text x="64" y="110">100</text><text x="81" y="110">125</text><text x="98" y="110">150</text><text x="50" y="123" font-size="7">Training Data Size</text></g>
<text transform="translate(-15,70) rotate(-90)" font-size="6">Model accuracy</text>
</g>
<g transform="translate(1325,380) scale(0.93,0.60)">
<text x="50" y="-5" font-size="7" text-anchor="middle">Learning curve For AdaBoost</text>
<rect x="0" y="0" width="100" height="100" fill="#fff" stroke="#444" stroke-width="0.8"/>
<g stroke="#ddd" stroke-width="0.6"><path d="M13 0V100 M30 0V100 M47 0V100 M64 0V100 M81 0V100 M98 0V100 M0 15H100 M0 35H100 M0 55H100 M0 75H100 M0 95H100"/></g>
<polygon points="5,3 32,8 62,30 96,32 96,36 62,32 32,40 5,6" fill="#aab0f5" opacity="0.6"/>
<polygon points="5,48 32,40 62,48 96,42 96,68 62,60 32,92 5,96" fill="#b8dcb4" opacity="0.6"/>
<polyline points="5,5 32,22 62,30 96,33" fill="none" stroke="#1a1aff" stroke-width="1.5"/>
<g fill="#1a1aff"><circle cx="5" cy="5" r="2"/><circle cx="32" cy="22" r="2"/><circle cx="62" cy="30" r="2"/><circle cx="96" cy="33" r="2"/></g>
<polyline points="5,70 32,62 62,65 96,52" fill="none" stroke="#1a9a1a" stroke-width="1.5" stroke-dasharray="3 2"/>
<rect x="44" y="74" width="55" height="24" fill="#fff" stroke="#ccc" stroke-width="0.5"/>
<g font-size="5.5"><line x1="46" y1="80" x2="56" y2="80" stroke="#1a1aff" stroke-width="1.3"/><text x="58" y="82">Training Accuracy</text><line x1="46" y1="91" x2="56" y2="91" stroke="#1a9a1a" stroke-width="1.3" stroke-dasharray="2 1.5"/><text x="58" y="93">Validation Accuracy</text></g>
<g font-size="6" text-anchor="end"><text x="-2" y="7">1.00</text><text x="-2" y="21">0.95</text><text x="-2" y="35">0.90</text><text x="-2" y="49">0.85</text><text x="-2" y="63">0.80</text><text x="-2" y="77">0.75</text><text x="-2" y="91">0.70</text></g>
<g font-size="6" text-anchor="middle"><text x="13" y="110">25</text><text x="30" y="110">50</text><text x="47" y="110">75</text><text x="64" y="110">100</text><text x="81" y="110">125</text><text x="98" y="110">150</text><text x="50" y="123" font-size="7">Training Data Size</text></g>
<text transform="translate(-18,70) rotate(-90)" font-size="6">Model accuracy</text>
</g>
<g transform="translate(1324,552) scale(0.95,0.61)">
<text x="50" y="-5" font-size="7" text-anchor="middle">Learning curve For AdaBoost</text>
<rect x="0" y="0" width="100" height="100" fill="#fff" stroke="#444" stroke-width="0.8"/>
<g stroke="#ddd" stroke-width="0.6"><path d="M13 0V100 M30 0V100 M47 0V100 M64 0V100 M81 0V100 M98 0V100 M0 15H100 M0 35H100 M0 55H100 M0 75H100 M0 95H100"/></g>
<polygon points="5,3 32,6 62,38 96,30 96,36 62,44 32,20 5,6" fill="#aab0f5" opacity="0.6"/>
<polygon points="5,54 32,55 62,45 96,38 96,66 62,72 32,80 5,94" fill="#b8dcb4" opacity="0.6"/>
<polyline points="5,8 32,15 62,33 96,31" fill="none" stroke="#1a1aff" stroke-width="1.5"/>
<g fill="#1a1aff"><circle cx="5" cy="8" r="2"/><circle cx="32" cy="15" r="2"/><circle cx="62" cy="33" r="2"/><circle cx="96" cy="31" r="2"/></g>
<polyline points="5,74 32,68 62,60 96,50" fill="none" stroke="#1a9a1a" stroke-width="1.5" stroke-dasharray="3 2"/>
<rect x="44" y="74" width="55" height="24" fill="#fff" stroke="#ccc" stroke-width="0.5"/>
<g font-size="5.5"><line x1="46" y1="80" x2="56" y2="80" stroke="#1a1aff" stroke-width="1.3"/><text x="58" y="82">Training Accuracy</text><line x1="46" y1="91" x2="56" y2="91" stroke="#1a9a1a" stroke-width="1.3" stroke-dasharray="2 1.5"/><text x="58" y="93">Validation Accuracy</text></g>
<g font-size="6" text-anchor="end"><text x="-2" y="10">1.00</text><text x="-2" y="24">0.95</text><text x="-2" y="38">0.90</text><text x="-2" y="52">0.85</text><text x="-2" y="66">0.80</text><text x="-2" y="80">0.75</text><text x="-2" y="94">0.70</text></g>
<g font-size="6" text-anchor="middle"><text x="13" y="110">25</text><text x="30" y="110">50</text><text x="47" y="110">75</text><text x="64" y="110">100</text><text x="81" y="110">125</text><text x="98" y="110">150</text><text x="50" y="123" font-size="7">Training Data Size</text></g>
<text transform="translate(-18,70) rotate(-90)" font-size="6">Model accuracy</text>
</g>
<g transform="translate(1325,733) scale(0.94,0.615)">
<text x="50" y="-5" font-size="7" text-anchor="middle">Learning curve For AdaBoost</text>
<rect x="0" y="0" width="100" height="100" fill="#fff" stroke="#444" stroke-width="0.8"/>
<g stroke="#ddd" stroke-width="0.6"><path d="M13 0V100 M30 0V100 M47 0V100 M64 0V100 M81 0V100 M98 0V100 M0 15H100 M0 35H100 M0 55H100 M0 75H100 M0 95H100"/></g>
<polygon points="5,3 32,6 62,30 96,29 96,34 62,36 32,40 5,6" fill="#aab0f5" opacity="0.6"/>
<polygon points="5,48 32,40 62,48 96,42 96,68 62,60 32,92 5,96" fill="#b8dcb4" opacity="0.6"/>
<polyline points="5,6 32,22 62,29 96,31" fill="none" stroke="#1a1aff" stroke-width="1.5"/>
<g fill="#1a1aff"><circle cx="5" cy="6" r="2"/><circle cx="32" cy="22" r="2"/><circle cx="62" cy="29" r="2"/><circle cx="96" cy="31" r="2"/></g>
<polyline points="5,72 32,62 62,65 96,52" fill="none" stroke="#1a9a1a" stroke-width="1.5" stroke-dasharray="3 2"/>
<rect x="44" y="74" width="55" height="24" fill="#fff" stroke="#ccc" stroke-width="0.5"/>
<g font-size="5.5"><line x1="46" y1="80" x2="56" y2="80" stroke="#1a1aff" stroke-width="1.3"/><text x="58" y="82">Training Accuracy</text><line x1="46" y1="91" x2="56" y2="91" stroke="#1a9a1a" stroke-width="1.3" stroke-dasharray="2 1.5"/><text x="58" y="93">Validation Accuracy</text></g>
<g font-size="6" text-anchor="end"><text x="-2" y="8">1.00</text><text x="-2" y="22">0.95</text><text x="-2" y="36">0.90</text><text x="-2" y="50">0.85</text><text x="-2" y="64">0.80</text><text x="-2" y="78">0.75</text><text x="-2" y="92">0.70</text></g>
<g font-size="6" text-anchor="middle"><text x="13" y="110">25</text><text x="30" y="110">50</text><text x="47" y="110">75</text><text x="64" y="110">100</text><text x="81" y="110">125</text><text x="98" y="110">150</text><text x="50" y="123" font-size="7">Training Data Size</text></g>
</g>

<g transform="translate(1445,155.6) scale(0.95,0.644)">
<text x="50" y="-4" font-size="4.5" text-anchor="middle">Comparison of ROC curve of each algorithm via variance</text>
<rect x="0" y="0" width="100" height="100" fill="#fff" stroke="#555" stroke-width="0.6"/>
<line x1="5" y1="95" x2="95" y2="5" stroke="#3344cc" stroke-width="0.7" stroke-dasharray="2 1.5"/>
<g fill="none" stroke-width="0.7">
<polyline points="5,95 8,70 12,45 16,38 20,30 30,30 40,25 50,25 55,18 60,18 65,10 70,5 95,5" stroke="#6060ff"/>
<polyline points="5,95 9,68 13,42 18,35 24,30 36,28 48,28 58,20 66,15 80,10 95,5" stroke="#ff3030"/>
<polyline points="5,95 7,72 11,48 15,40 22,32 34,30 46,26 56,22 64,14 78,8 95,5" stroke="#30a050"/>
<polyline points="5,95 10,74 14,50 17,42 26,27 38,27 50,27 60,22 70,15 84,8 95,5" stroke="#ffa040"/>
<polyline points="5,95 8,66 12,44 19,36 28,29 42,29 52,24 62,16 72,12 86,10 95,5" stroke="#a030a0"/>
<polyline points="5,95 9,62 13,40 17,34 25,28 40,28 54,20 66,12 74,8 95,5" stroke="#e8e020"/>
<polyline points="5,95 7,70 12,46 18,37 27,31 44,31 52,18 64,10 76,6 95,5" stroke="#20d0e8"/>
<polyline points="5,95 9,72 14,52 20,40 30,33 46,33 58,26 68,18 80,12 95,5" stroke="#ff40d0"/>
</g>
<rect x="62" y="38" width="36" height="56" fill="#fff" stroke="#ddd" stroke-width="0.4"/>
<g font-size="3.4"><text x="71" y="44">Gaussian Process</text><text x="71" y="49.5">Random Forest</text><text x="71" y="55">Nearest Neighbors</text><text x="71" y="60.5">Linear SVM</text><text x="71" y="66">RBF SVM</text><text x="71" y="71.5">Neural Net</text><text x="71" y="77">Naive Bayes</text><text x="71" y="82.5">Decision Tree</text><text x="71" y="88">AdaBoost</text><text x="71" y="93">QDA</text></g>
<g stroke-width="1"><line x1="64" y1="43" x2="69" y2="43" stroke="#6060ff"/><line x1="64" y1="48.5" x2="69" y2="48.5" stroke="#ff3030"/><line x1="64" y1="54" x2="69" y2="54" stroke="#30a050"/><line x1="64" y1="59.5" x2="69" y2="59.5" stroke="#ffa040"/><line x1="64" y1="65" x2="69" y2="65" stroke="#a030a0"/><line x1="64" y1="70.5" x2="69" y2="70.5" stroke="#e8e020"/><line x1="64" y1="76" x2="69" y2="76" stroke="#20d0e8"/><line x1="64" y1="81.5" x2="69" y2="81.5" stroke="#ff40d0"/><line x1="64" y1="87" x2="69" y2="87" stroke="#30e030"/><line x1="64" y1="92" x2="69" y2="92" stroke="#20a0a0"/></g>
<g font-size="4" text-anchor="middle"><text x="5" y="106">0.0</text><text x="23" y="106">0.2</text><text x="41" y="106">0.4</text><text x="59" y="106">0.6</text><text x="77" y="106">0.8</text><text x="95" y="106">1.0</text><text x="50" y="113">False Positive Rate</text></g>
<g font-size="4" text-anchor="end"><text x="-2" y="6">1.0</text><text x="-2" y="24">0.8</text><text x="-2" y="42">0.6</text><text x="-2" y="60">0.4</text><text x="-2" y="78">0.2</text><text x="-2" y="96">0.0</text></g>
<text transform="translate(-9,70) rotate(-90)" font-size="4">True Positive Rate</text>
</g>
<g transform="translate(1447,379) scale(0.93,0.61)">
<text x="50" y="-4" font-size="4.5" text-anchor="middle">Comparison of ROC curve of each algorithm via variance</text>
<rect x="0" y="0" width="100" height="100" fill="#fff" stroke="#555" stroke-width="0.6"/>
<line x1="5" y1="95" x2="95" y2="5" stroke="#3344cc" stroke-width="0.7" stroke-dasharray="2 1.5"/>
<g fill="none" stroke-width="0.7">
<polyline points="5,95 8,70 12,45 16,38 20,30 30,30 40,25 50,25 55,18 60,18 65,10 70,5 95,5" stroke="#6060ff"/>
<polyline points="5,95 9,68 13,42 18,35 24,30 36,28 48,28 58,20 66,15 80,10 95,5" stroke="#ff3030"/>
<polyline points="5,95 7,72 11,48 15,40 22,32 34,30 46,26 56,22 64,14 78,8 95,5" stroke="#30a050"/>
<polyline points="5,95 10,74 14,50 17,42 26,27 38,27 50,27 60,22 70,15 84,8 95,5" stroke="#ffa040"/>
<polyline points="5,95 8,66 12,44 19,36 28,29 42,29 52,24 62,16 72,12 86,10 95,5" stroke="#a030a0"/>
<polyline points="5,95 9,62 13,40 17,34 25,28 40,28 54,20 66,12 74,8 95,5" stroke="#e8e020"/>
<polyline points="5,95 7,70 12,46 18,37 27,31 44,31 52,18 64,10 76,6 95,5" stroke="#20d0e8"/>
<polyline points="5,95 9,72 14,52 20,40 30,33 46,33 58,26 68,18 80,12 95,5" stroke="#ff40d0"/>
</g>
<rect x="62" y="38" width="36" height="56" fill="#fff" stroke="#ddd" stroke-width="0.4"/>
<g font-size="3.4"><text x="71" y="44">Gaussian Process</text><text x="71" y="49.5">Random Forest</text><text x="71" y="55">Nearest Neighbors</text><text x="71" y="60.5">Linear SVM</text><text x="71" y="66">RBF SVM</text><text x="71" y="71.5">Neural Net</text><text x="71" y="77">Naive Bayes</text><text x="71" y="82.5">Decision Tree</text><text x="71" y="88">AdaBoost</text><text x="71" y="93">QDA</text></g>
<g stroke-width="1"><line x1="64" y1="43" x2="69" y2="43" stroke="#6060ff"/><line x1="64" y1="48.5" x2="69" y2="48.5" stroke="#ff3030"/><line x1="64" y1="54" x2="69" y2="54" stroke="#30a050"/><line x1="64" y1="59.5" x2="69" y2="59.5" stroke="#ffa040"/><line x1="64" y1="65" x2="69" y2="65" stroke="#a030a0"/><line x1="64" y1="70.5" x2="69" y2="70.5" stroke="#e8e020"/><line x1="64" y1="76" x2="69" y2="76" stroke="#20d0e8"/><line x1="64" y1="81.5" x2="69" y2="81.5" stroke="#ff40d0"/><line x1="64" y1="87" x2="69" y2="87" stroke="#30e030"/><line x1="64" y1="92" x2="69" y2="92" stroke="#20a0a0"/></g>
<g font-size="4" text-anchor="middle"><text x="5" y="106">0.0</text><text x="23" y="106">0.2</text><text x="41" y="106">0.4</text><text x="59" y="106">0.6</text><text x="77" y="106">0.8</text><text x="95" y="106">1.0</text><text x="50" y="113">False Positive Rate</text></g>
<g font-size="4" text-anchor="end"><text x="-2" y="6">1.0</text><text x="-2" y="24">0.8</text><text x="-2" y="42">0.6</text><text x="-2" y="60">0.4</text><text x="-2" y="78">0.2</text><text x="-2" y="96">0.0</text></g>
<text transform="translate(-9,70) rotate(-90)" font-size="4">True Positive Rate</text>
</g>
<g transform="translate(1442.6,551) scale(0.944,0.625)">
<text x="50" y="-4" font-size="4.5" text-anchor="middle">Comparison of ROC curve of each algorithm via variance</text>
<rect x="0" y="0" width="100" height="100" fill="#fff" stroke="#555" stroke-width="0.6"/>
<line x1="5" y1="95" x2="95" y2="5" stroke="#3344cc" stroke-width="0.7" stroke-dasharray="2 1.5"/>
<g fill="none" stroke-width="0.7">
<polyline points="5,95 8,70 12,45 16,38 20,30 30,30 40,25 50,25 55,18 60,18 65,10 70,5 95,5" stroke="#6060ff"/>
<polyline points="5,95 9,68 13,42 18,35 24,30 36,28 48,28 58,20 66,15 80,10 95,5" stroke="#ff3030"/>
<polyline points="5,95 7,72 11,48 15,40 22,32 34,30 46,26 56,22 64,14 78,8 95,5" stroke="#30a050"/>
<polyline points="5,95 10,74 14,50 17,42 26,27 38,27 50,27 60,22 70,15 84,8 95,5" stroke="#ffa040"/>
<polyline points="5,95 8,66 12,44 19,36 28,29 42,29 52,24 62,16 72,12 86,10 95,5" stroke="#a030a0"/>
<polyline points="5,95 9,62 13,40 17,34 25,28 40,28 54,20 66,12 74,8 95,5" stroke="#e8e020"/>
<polyline points="5,95 7,70 12,46 18,37 27,31 44,31 52,18 64,10 76,6 95,5" stroke="#20d0e8"/>
<polyline points="5,95 9,72 14,52 20,40 30,33 46,33 58,26 68,18 80,12 95,5" stroke="#ff40d0"/>
</g>
<rect x="62" y="38" width="36" height="56" fill="#fff" stroke="#ddd" stroke-width="0.4"/>
<g font-size="3.4"><text x="71" y="44">Gaussian Process</text><text x="71" y="49.5">Random Forest</text><text x="71" y="55">Nearest Neighbors</text><text x="71" y="60.5">Linear SVM</text><text x="71" y="66">RBF SVM</text><text x="71" y="71.5">Neural Net</text><text x="71" y="77">Naive Bayes</text><text x="71" y="82.5">Decision Tree</text><text x="71" y="88">AdaBoost</text><text x="71" y="93">QDA</text></g>
<g stroke-width="1"><line x1="64" y1="43" x2="69" y2="43" stroke="#6060ff"/><line x1="64" y1="48.5" x2="69" y2="48.5" stroke="#ff3030"/><line x1="64" y1="54" x2="69" y2="54" stroke="#30a050"/><line x1="64" y1="59.5" x2="69" y2="59.5" stroke="#ffa040"/><line x1="64" y1="65" x2="69" y2="65" stroke="#a030a0"/><line x1="64" y1="70.5" x2="69" y2="70.5" stroke="#e8e020"/><line x1="64" y1="76" x2="69" y2="76" stroke="#20d0e8"/><line x1="64" y1="81.5" x2="69" y2="81.5" stroke="#ff40d0"/><line x1="64" y1="87" x2="69" y2="87" stroke="#30e030"/><line x1="64" y1="92" x2="69" y2="92" stroke="#20a0a0"/></g>
<g font-size="4" text-anchor="middle"><text x="5" y="106">0.0</text><text x="23" y="106">0.2</text><text x="41" y="106">0.4</text><text x="59" y="106">0.6</text><text x="77" y="106">0.8</text><text x="95" y="106">1.0</text><text x="50" y="113">False Positive Rate</text></g>
<g font-size="4" text-anchor="end"><text x="-2" y="6">1.0</text><text x="-2" y="24">0.8</text><text x="-2" y="42">0.6</text><text x="-2" y="60">0.4</text><text x="-2" y="78">0.2</text><text x="-2" y="96">0.0</text></g>
<text transform="translate(-9,70) rotate(-90)" font-size="4">True Positive Rate</text>
</g>
<g transform="translate(1448.4,732.6) scale(0.916,0.619)">
<text x="50" y="-4" font-size="4.5" text-anchor="middle">Comparison of ROC curve of each algorithm via variance</text>
<rect x="0" y="0" width="100" height="100" fill="#fff" stroke="#555" stroke-width="0.6"/>
<line x1="5" y1="95" x2="95" y2="5" stroke="#3344cc" stroke-width="0.7" stroke-dasharray="2 1.5"/>
<g fill="none" stroke-width="0.7">
<polyline points="5,95 8,70 12,45 16,38 20,30 30,30 40,25 50,25 55,18 60,18 65,10 70,5 95,5" stroke="#6060ff"/>
<polyline points="5,95 9,68 13,42 18,35 24,30 36,28 48,28 58,20 66,15 80,10 95,5" stroke="#ff3030"/>
<polyline points="5,95 7,72 11,48 15,40 22,32 34,30 46,26 56,22 64,14 78,8 95,5" stroke="#30a050"/>
<polyline points="5,95 10,74 14,50 17,42 26,27 38,27 50,27 60,22 70,15 84,8 95,5" stroke="#ffa040"/>
<polyline points="5,95 8,66 12,44 19,36 28,29 42,29 52,24 62,16 72,12 86,10 95,5" stroke="#a030a0"/>
<polyline points="5,95 9,62 13,40 17,34 25,28 40,28 54,20 66,12 74,8 95,5" stroke="#e8e020"/>
<polyline points="5,95 7,70 12,46 18,37 27,31 44,31 52,18 64,10 76,6 95,5" stroke="#20d0e8"/>
<polyline points="5,95 9,72 14,52 20,40 30,33 46,33 58,26 68,18 80,12 95,5" stroke="#ff40d0"/>
</g>
<rect x="62" y="38" width="36" height="56" fill="#fff" stroke="#ddd" stroke-width="0.4"/>
<g font-size="3.4"><text x="71" y="44">Gaussian Process</text><text x="71" y="49.5">Random Forest</text><text x="71" y="55">Nearest Neighbors</text><text x="71" y="60.5">Linear SVM</text><text x="71" y="66">RBF SVM</text><text x="71" y="71.5">Neural Net</text><text x="71" y="77">Naive Bayes</text><text x="71" y="82.5">Decision Tree</text><text x="71" y="88">AdaBoost</text><text x="71" y="93">QDA</text></g>
<g stroke-width="1"><line x1="64" y1="43" x2="69" y2="43" stroke="#6060ff"/><line x1="64" y1="48.5" x2="69" y2="48.5" stroke="#ff3030"/><line x1="64" y1="54" x2="69" y2="54" stroke="#30a050"/><line x1="64" y1="59.5" x2="69" y2="59.5" stroke="#ffa040"/><line x1="64" y1="65" x2="69" y2="65" stroke="#a030a0"/><line x1="64" y1="70.5" x2="69" y2="70.5" stroke="#e8e020"/><line x1="64" y1="76" x2="69" y2="76" stroke="#20d0e8"/><line x1="64" y1="81.5" x2="69" y2="81.5" stroke="#ff40d0"/><line x1="64" y1="87" x2="69" y2="87" stroke="#30e030"/><line x1="64" y1="92" x2="69" y2="92" stroke="#20a0a0"/></g>
<g font-size="4" text-anchor="middle"><text x="5" y="106">0.0</text><text x="23" y="106">0.2</text><text x="41" y="106">0.4</text><text x="59" y="106">0.6</text><text x="77" y="106">0.8</text><text x="95" y="106">1.0</text><text x="50" y="113">False Positive Rate</text></g>
<g font-size="4" text-anchor="end"><text x="-2" y="6">1.0</text><text x="-2" y="24">0.8</text><text x="-2" y="42">0.6</text><text x="-2" y="60">0.4</text><text x="-2" y="78">0.2</text><text x="-2" y="96">0.0</text></g>
<text transform="translate(-9,70) rotate(-90)" font-size="4">True Positive Rate</text>
</g>
</svg>
</body></html>
